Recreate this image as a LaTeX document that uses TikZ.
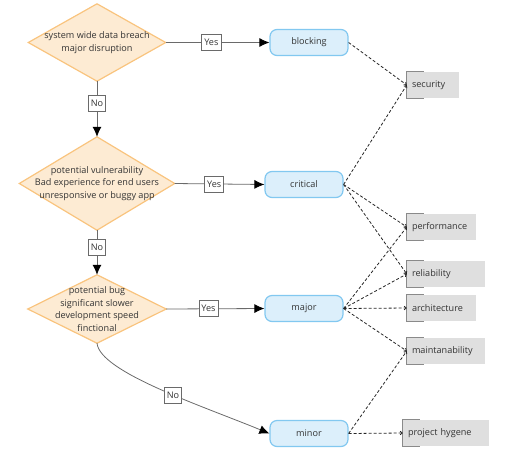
\documentclass[tikz,border=0pt]{standalone}
\usepackage{fontspec}
\setmainfont{Open Sans}
\usetikzlibrary{arrows.meta,backgrounds}
\definecolor{diafill}{HTML}{FDEBD3}
\definecolor{diadraw}{HTML}{F9C47E}
\definecolor{boxfill}{HTML}{DCEFFB}
\definecolor{boxdraw}{HTML}{82C8F0}
\definecolor{tagfill}{HTML}{DFDFDF}
\definecolor{tagdraw}{HTML}{8A8A8A}
\definecolor{linegray}{HTML}{6A6A6A}
\definecolor{txt}{HTML}{333333}
\tikzset{
  dia/.style={inner sep=0pt, align=center, text=txt, font=\fontsize{9.1}{12.8}\selectfont},
  sev/.style={draw=boxdraw, fill=boxfill, line width=1.2pt, rounded corners=7pt,
    minimum width=78pt, minimum height=26pt, inner sep=0pt, text=txt, font=\fontsize{9.1}{10}\selectfont},
  tag/.style={fill=tagfill, minimum height=26pt, inner ysep=0pt, inner xsep=5pt, text=txt,
    align=left, font=\fontsize{9.1}{10}\selectfont},
  lbl/.style={draw=linegray, fill=white, inner xsep=2.5pt, inner ysep=0pt, minimum height=16pt,
    line width=0.6pt, text=txt, font=\fontsize{9.1}{10}\selectfont},
  flow/.style={draw=linegray, line width=0.8pt, -{Latex[length=10pt,width=9pt,color=black]}},
  dep/.style={draw=black!85, line width=0.8pt, dash pattern=on 3pt off 2pt,
    -{Straight Barb[length=2pt,width=3.5pt]}}
}
\begin{document}
\begin{tikzpicture}[x=1pt,y=-1pt]
\useasboundingbox (0,0) rectangle (522,459);
% decision nodes
\node[dia, minimum width=137pt, minimum height=77pt] (d1) at (97,42.5) {system wide data breach\\major disruption};
\node[dia, minimum width=155pt, minimum height=93pt] (d2) at (97,183.5) {potential vulnerability\\Bad experience for end users\\unresponsive or buggy app};
\node[dia, minimum width=138pt, minimum height=68pt] (d3) at (97,309) {potential bug\\significant slower\\development speed\\finctional};
\begin{scope}[on background layer]
\foreach \d in {d1,d2,d3}
  \filldraw[fill=diafill, draw=diadraw, line width=1.2pt, line join=miter]
    (\d.north) -- (\d.east) -- (\d.south) -- (\d.west) -- cycle;
\end{scope}
% severity nodes
\node[sev] (blk) at (309,42.5) {blocking};
\node[sev] (crt) at (304,184.5) {critical};
\node[sev] (maj) at (304,308.5) {major};
\node[sev] (mnr) at (309,433.5) {minor};
% tag nodes
\node[tag, text width=42pt] (sec) at (433,85) {security};
\node[tag, text width=59pt] (per) at (441.5,227) {performance};
\node[tag, text width=68pt] (rel) at (446,274) {reliability};
\node[tag, text width=59pt] (arc) at (441.5,308) {architecture};
\node[tag, text width=68pt] (mai) at (446,351) {maintanability};
\node[tag, text width=76pt] (hyg) at (446,433) {project hygene};
\foreach \t in {sec,per,rel,arc,mai,hyg}
  \draw[tagdraw, line width=0.8pt] ([xshift=17pt]\t.north west) -- (\t.north west) -- (\t.south west) -- ([xshift=17pt]\t.south west);
% flow
\draw[flow] (d1.east) -- node[lbl, pos=0.44] (y1) {Yes} (blk.west);
\draw[flow] (d2.east) -- node[lbl, pos=0.44] (y2) {Yes} (crt.west);
\draw[flow] (d3.east) -- node[lbl, pos=0.43] (y3) {Yes} (maj.west);
\draw[flow] (d1.south) -- node[lbl, pos=0.4] (n1) {No} (d2.north);
\draw[flow] (d2.south) -- node[lbl, pos=0.38] (n2) {No} (d3.north);
\draw[flow] (d3.south) .. controls (100,372) and (200,405) .. node[lbl, pos=0.57] (n3) {No} (mnr.west);
% dependencies
\draw[dep] (blk.east) -- (sec.west);
\draw[dep] (crt.east) -- (sec.west);
\draw[dep] (crt.east) -- (per.west);
\draw[dep] (crt.east) -- (rel.west);
\draw[dep] (maj.east) -- (per.west);
\draw[dep] (maj.east) -- (rel.west);
\draw[dep] (maj.east) -- (arc.west);
\draw[dep] (maj.east) -- (mai.west);
\draw[dep] (mnr.east) -- (mai.west);
\draw[dep] (mnr.east) -- (hyg.west);
\end{tikzpicture}
\end{document}
